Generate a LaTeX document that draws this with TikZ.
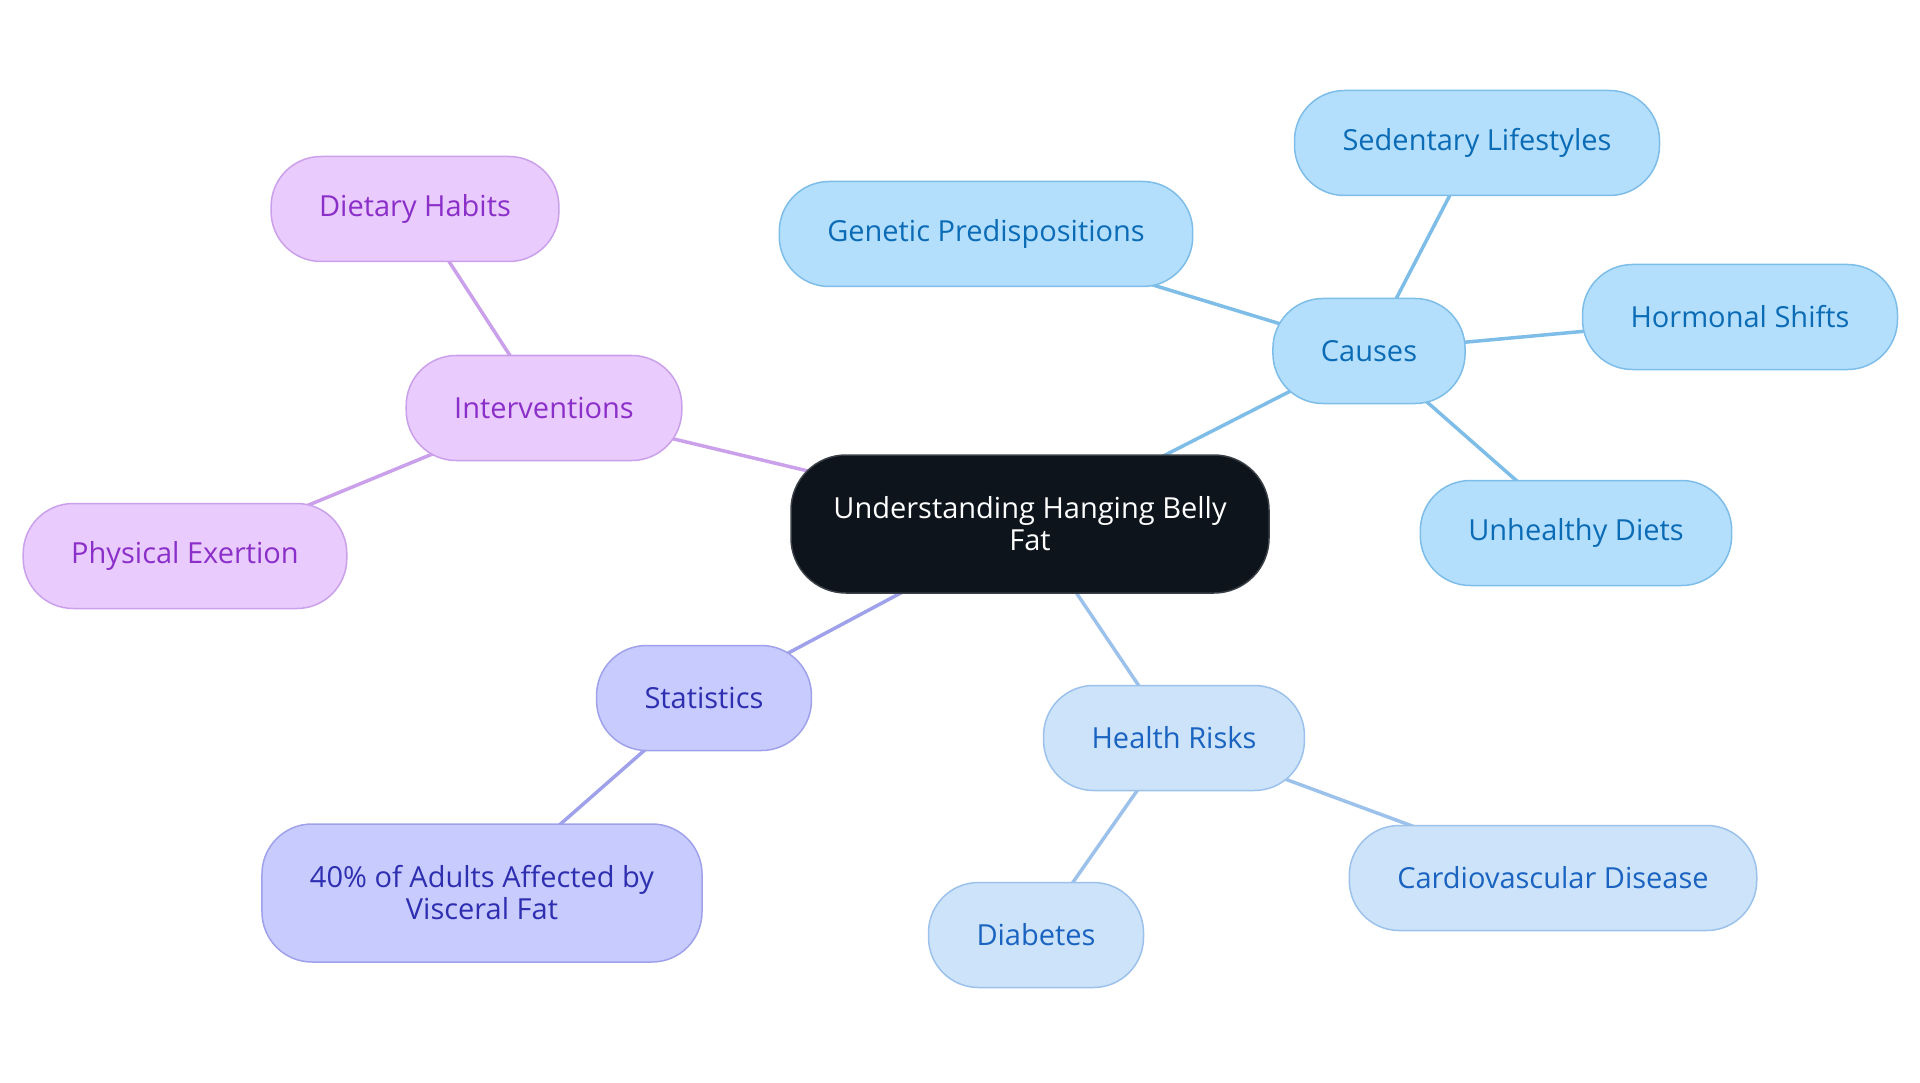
\documentclass[tikz,border=0pt]{standalone}
\usepackage{fontspec}
\setmainfont{Open Sans}
\usetikzlibrary{backgrounds}
\definecolor{rootfill}{HTML}{0D141C}
\definecolor{rootline}{HTML}{3A3F46}
\definecolor{causefill}{HTML}{B3DFFD}
\definecolor{causeline}{HTML}{7DBDE8}
\definecolor{causetext}{HTML}{0B6BB5}
\definecolor{riskfill}{HTML}{CCE3FA}
\definecolor{riskline}{HTML}{9CC2EC}
\definecolor{risktext}{HTML}{1A63C0}
\definecolor{statfill}{HTML}{C8CBFD}
\definecolor{statline}{HTML}{9FA2EA}
\definecolor{stattext}{HTML}{2E2FB0}
\definecolor{intfill}{HTML}{EACBFD}
\definecolor{intline}{HTML}{CBA0EB}
\definecolor{inttext}{HTML}{8B2FC9}
\tikzset{
  pill/.style={draw,rounded corners=50pt,line width=1.5pt,minimum height=105pt,inner xsep=48pt,align=center,font=\fontsize{29}{32}\selectfont},
  rootbox/.style={pill,rounded corners=55pt,minimum height=138pt,inner xsep=40pt,fill=rootfill,draw=rootline,text=white},
  causebox/.style={pill,fill=causefill,draw=causeline,text=causetext},
  riskbox/.style={pill,fill=riskfill,draw=riskline,text=risktext},
  statbox/.style={pill,fill=statfill,draw=statline,text=stattext},
  intbox/.style={pill,fill=intfill,draw=intline,text=inttext},
  link/.style={line width=3.5pt}
}

\begin{document}
\begin{tikzpicture}[x=1pt,y=-1pt]
  \useasboundingbox (0,0) rectangle (1920,1083);
  \node[rootbox,minimum width=478pt] (root) at (1030,524) {Understanding Hanging Belly\\Fat};
  \node[causebox] (causes) at (1369,351) {Causes};
  \node[causebox] (sedentary) at (1477,143) {Sedentary Lifestyles};
  \node[causebox] (genetic) at (986,234) {Genetic Predispositions};
  \node[causebox] (hormonal) at (1740,317) {Hormonal Shifts};
  \node[causebox] (unhealthy) at (1576,533) {Unhealthy Diets};
  \node[riskbox] (risks) at (1174,738) {Health Risks};
  \node[riskbox] (cardio) at (1553,878) {Cardiovascular Disease};
  \node[riskbox] (diabetes) at (1036,935) {Diabetes};
  \node[statbox] (stats) at (704,698) {Statistics};
  \node[statbox,minimum height=138pt] (adults) at (482,893) {40\% of Adults Affected by\\Visceral Fat};
  \node[intbox] (interv) at (544,408) {Interventions};
  \node[intbox] (dietary) at (415,209) {Dietary Habits};
  \node[intbox] (physical) at (185,556) {Physical Exertion};
  \begin{scope}[on background layer]
    \draw[link,causeline] (root.center) -- (causes.center);
    \foreach \n in {sedentary,genetic,hormonal,unhealthy}
      \draw[link,causeline] (causes.center) -- (\n.center);
    \draw[link,riskline] (root.center) -- (risks.center);
    \foreach \n in {cardio,diabetes}
      \draw[link,riskline] (risks.center) -- (\n.center);
    \draw[link,statline] (root.center) -- (stats.center);
    \draw[link,statline] (stats.center) -- (adults.center);
    \draw[link,intline] (root.center) -- (interv.center);
    \foreach \n in {dietary,physical}
      \draw[link,intline] (interv.center) -- (\n.center);
  \end{scope}
\end{tikzpicture}
\end{document}
